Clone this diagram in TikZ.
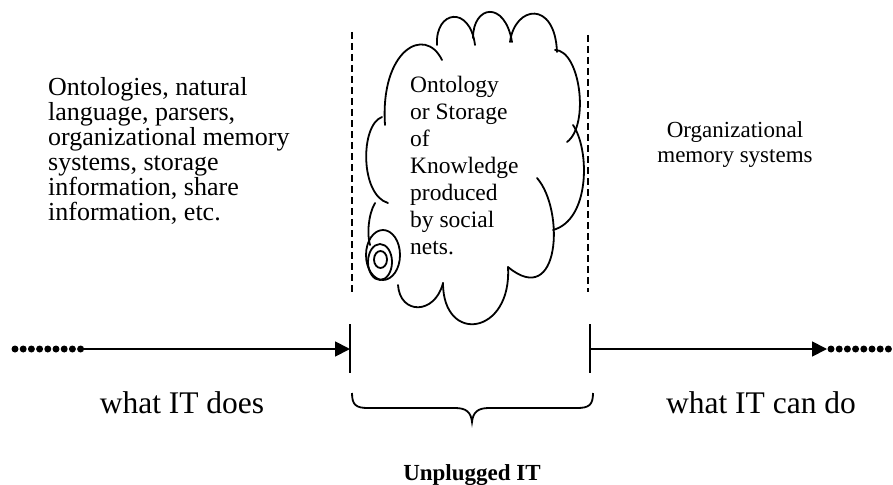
\documentclass[tikz,border=0pt]{standalone}
\usepackage{fontspec}
\setmainfont{Liberation Serif}
\usetikzlibrary{arrows.meta}
\begin{document}
\begin{tikzpicture}[x=1pt,y=-1pt,
  ln/.style={line width=1.8pt},
  cl/.style={line width=1.8pt, line cap=round},
  dsh/.style={line width=1.4pt, dash pattern=on 7pt off 4pt},
  dotrow/.style={line width=7pt, line cap=round, dash pattern=on 0pt off 8.2pt},
  tipa/.style={-{Triangle[length=15pt,width=15pt]}},
  txt/.style={inner sep=0pt, align=left}]
\useasboundingbox[fill=white] (0,0) rectangle (893,484);

% axis coordinates
\coordinate (ldotA) at (15,349);
\coordinate (ldotB) at (81.5,349);
\coordinate (lstart) at (84,349);
\coordinate (lbarmid) at (350,349);
\coordinate (lbartop) at (350,324);
\coordinate (lbarbot) at (350,373);
\coordinate (rbarmid) at (590,349);
\coordinate (rbartop) at (590,324);
\coordinate (rbarbot) at (590,373);
\coordinate (rend) at (827,349);
\coordinate (rdotA) at (831,349);
\coordinate (rdotB) at (889,349);

\draw[dotrow] (ldotA) -- (ldotB);
\draw[dotrow] (rdotA) -- (rdotB);
\draw[ln,tipa] (lstart) -- (lbarmid);
\draw[ln] (lbartop) -- (lbarbot);
\draw[ln] (rbartop) -- (rbarbot);
\draw[ln,tipa] (rbarmid) -- (rend);

% dashed verticals
\coordinate (dlt) at (352,32);
\coordinate (dlb) at (352,292);
\coordinate (drt) at (588,35);
\coordinate (drb) at (588,292);
\draw[dsh] (dlt) -- (dlb);
\draw[dsh] (drt) -- (drb);

% cloud lobes
\draw[cl] (385,125) .. controls (380,50) and (425,25) .. (442,60);
\draw[cl] (437,45) .. controls (435,10) and (470,5) .. (475,45);
\draw[cl] (473,38) .. controls (473,5) and (505,0) .. (512,42);
\draw[cl] (510,42) .. controls (515,5) and (555,0) .. (557,52);
\draw[cl] (555,50) .. controls (580,50) and (590,125) .. (567,142);
\draw[cl] (573,125) .. controls (590,150) and (590,220) .. (553,230);
\draw[cl] (537,178) .. controls (565,210) and (560,310) .. (508,267);
\draw[cl] (508,267) .. controls (512,335) and (443,345) .. (443,283);
\draw[cl] (443,283) .. controls (435,315) and (400,315) .. (398,285);
\draw[cl] (382,117) .. controls (360,125) and (360,195) .. (388,203);
\draw[cl] (375,203) .. controls (368,215) and (367,235) .. (370,245);
\draw[cl] (383,255) ellipse [x radius=17, y radius=25];
\draw[cl] (380,262) ellipse [x radius=12, y radius=18];
\draw[cl] (380.5,259.5) ellipse [x radius=6.5, y radius=8.5];

% brace
\draw[ln] (352,393) .. controls (352,405) and (356,408) .. (368,408) -- (455,408)
  .. controls (466,408) and (471,412) .. (472,422)
  .. controls (473,412) and (478,408) .. (489,408) -- (577,408)
  .. controls (589,408) and (593,405) .. (593,393);

% texts
\node[txt, anchor=north west, font=\fontsize{26}{25}\selectfont] (lefttext) at (48,77)
  {Ontologies, natural\\language, parsers,\\organizational memory\\systems, storage\\information, share\\information, etc.};
\node[txt, anchor=north west, font=\fontsize{23.5}{27}\selectfont] (cloudtext) at (410,76)
  {Ontology\\or Storage\\of\\Knowledge\\produced\\by social\\nets.};
\node[inner sep=0pt, align=center, anchor=north, font=\fontsize{23}{25}\selectfont] (righttext) at (735,121)
  {Organizational\\memory systems};
\node[inner sep=0pt, anchor=base, font=\fontsize{31.5}{34}\selectfont] (does) at (182,413) {what IT does};
\node[inner sep=0pt, anchor=base, font=\fontsize{31.5}{34}\selectfont] (cando) at (761,413) {what IT can do};
\node[inner sep=0pt, anchor=base, font=\fontsize{23}{25}\selectfont\bfseries] (unplugged) at (472,480) {Unplugged IT};
\end{tikzpicture}
\end{document}
